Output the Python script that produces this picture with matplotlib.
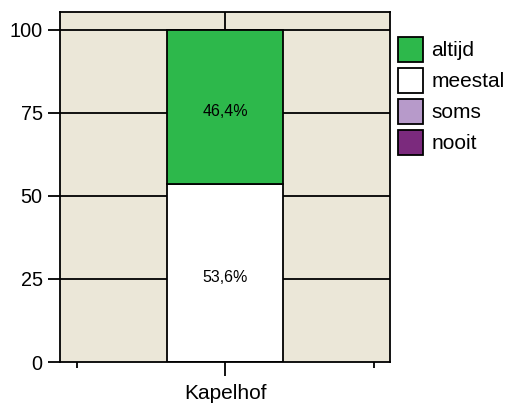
import numpy as np
import matplotlib.pyplot as plt
from matplotlib.patches import Patch

plt.rcParams['font.family'] = ['Liberation Sans', 'DejaVu Sans']

# data
category = "Kapelhof"
answers = ["altijd", "meestal", "soms", "nooit"]
colors = ["#2db84b", "#ffffff", "#b79aca", "#7b2a7d"]
# percentages stacked from the bottom up
stack_order = ["meestal", "altijd"]
stack_values = [53.6, 46.4]
stack_labels = ["53,6%", "46,4%"]

fig = plt.figure(figsize=(5.1, 4.03), dpi=100)
ax = fig.add_axes([60/510, 41/403, 330/510, 350/403])
ax.set_facecolor("#ebe7d8")

ax.set_xlim(-1, 1)
ax.set_ylim(0, 105.4)

# grid behind bars
for yv in [25, 50, 75, 100]:
    ax.axhline(yv, color="black", lw=1.3, zorder=1)
ax.axvline(0, color="black", lw=1.3, zorder=1)

bottom = 0
for name, val, lab in zip(stack_order, stack_values, stack_labels):
    c = colors[answers.index(name)]
    ax.bar(0, val, width=0.7, bottom=bottom, color=c, edgecolor="black", lw=1.3, zorder=2)
    ax.text(0, bottom + val/2 - 1.3, lab, ha="center", va="center", fontsize=11.5, zorder=3)
    bottom += val

for s in ax.spines.values():
    s.set_linewidth(1.3)

ax.set_yticks([0, 25, 50, 75, 100])
ax.tick_params(axis="y", length=9, width=1.3, labelsize=14.3, pad=3.5)
ax.set_xticks([0])
ax.set_xticklabels([category])
ax.set_xticks([-0.9, 0.9], minor=True)
ax.tick_params(axis="x", which="major", length=10, width=1.3, labelsize=15, pad=5.5)
ax.tick_params(axis="x", which="minor", length=4.5, width=1.3)

handles = [Patch(facecolor=c, edgecolor="black", lw=1.3) for c in colors]
fig.legend(handles, answers, loc="upper left", bbox_to_anchor=(398/510, 1 - 37/403),
           frameon=False, fontsize=15, handlelength=1.2, handleheight=1.47,
           handletextpad=0.4, labelspacing=0.28, borderpad=0, borderaxespad=0)

fig.savefig("out.png", dpi=100)
